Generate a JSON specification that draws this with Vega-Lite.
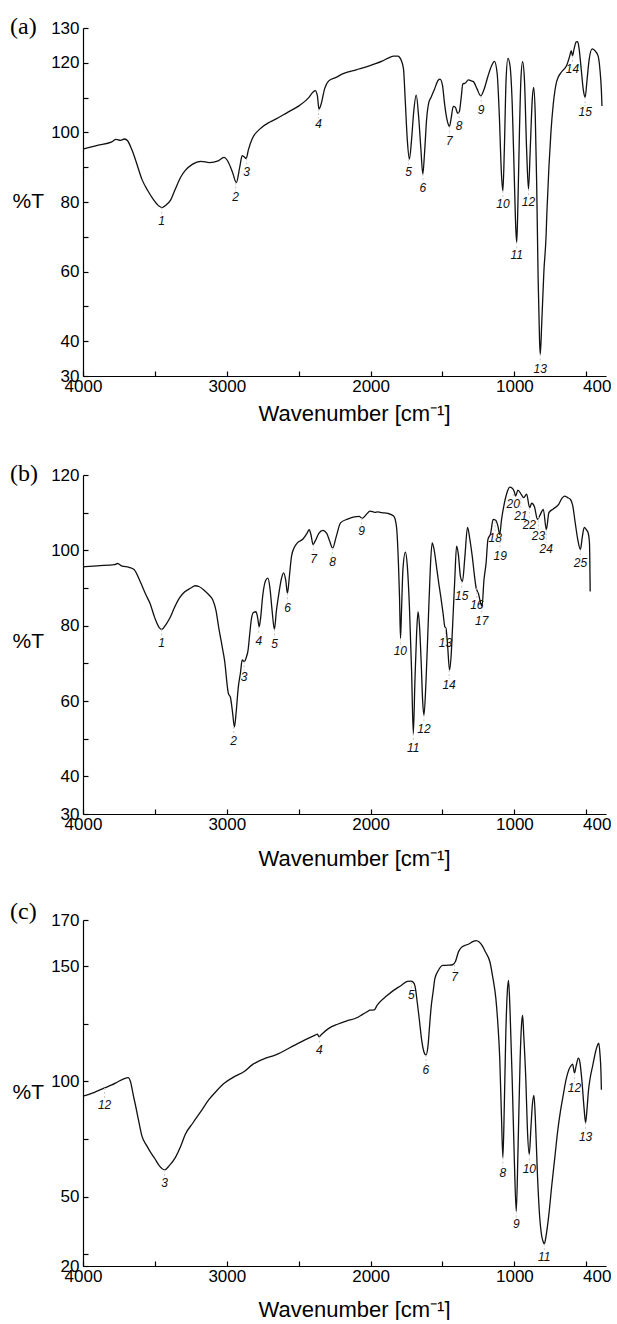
{
  "$schema": "https://vega.github.io/schema/vega-lite/v6.json",
  "background": "white",
  "padding": {"left": 10, "top": 14, "right": 0, "bottom": 0},
  "autosize": {"type": "pad"},
  "config": {
    "view": {"stroke": null},
    "axis": {
      "grid": false,
      "domainColor": "#000",
      "domainWidth": 1.2,
      "tickColor": "#000",
      "tickWidth": 1.2,
      "tickSize": -5,
      "labelColor": "#000",
      "titleColor": "#000",
      "labelFont": "Liberation Sans",
      "titleFont": "Liberation Sans",
      "labelFontSize": 17,
      "titleFontSize": 22,
      "titleFontWeight": "normal",
      "labelFlush": false
    },
    "title": {"font": "Liberation Serif", "fontSize": 24, "fontWeight": "normal", "color": "#000", "anchor": "start", "frame": "group", "baseline": "middle", "offset": 0, "dx": -73}
  },
  "datasets": {
    "a": [
      {"w":4000,"t":95.2},{"w":3900,"t":96.3},{"w":3800,"t":97.3},{"w":3770,"t":98.0},{"w":3740,"t":97.7},{"w":3710,"t":98.1},{"w":3690,"t":97.6},{"w":3660,"t":95},{"w":3630,"t":91.5},{"w":3590,"t":86.5},{"w":3550,"t":83.3},{"w":3510,"t":80.7},{"w":3470,"t":78.8},{"w":3450,"t":78.4},{"w":3420,"t":79.2},{"w":3390,"t":80.6},{"w":3360,"t":83.5},{"w":3320,"t":87.2},{"w":3290,"t":89.0},{"w":3240,"t":90.8},{"w":3180,"t":91.7},{"w":3120,"t":91.3},{"w":3060,"t":91.8},{"w":3020,"t":92.8},{"w":2990,"t":91.5},{"w":2960,"t":88.5},{"w":2934,"t":85.6},{"w":2910,"t":90},{"w":2893,"t":93.3},{"w":2880,"t":93.0},{"w":2865,"t":92.5},{"w":2850,"t":95},{"w":2824,"t":98.1},{"w":2769,"t":101},{"w":2700,"t":103},{"w":2660,"t":103.8},{"w":2580,"t":105.7},{"w":2496,"t":107.7},{"w":2430,"t":110},{"w":2400,"t":111.6},{"w":2385,"t":112.0},{"w":2370,"t":110.5},{"w":2359,"t":106.7},{"w":2345,"t":108},{"w":2320,"t":112.5},{"w":2291,"t":114.8},{"w":2240,"t":115.8},{"w":2195,"t":116.8},{"w":2100,"t":118},{"w":2030,"t":118.8},{"w":1976,"t":119.6},{"w":1920,"t":120.5},{"w":1870,"t":121.5},{"w":1840,"t":121.9},{"w":1810,"t":121.9},{"w":1799,"t":121.6},{"w":1785,"t":120.5},{"w":1771,"t":118.2},{"w":1760,"t":110},{"w":1745,"t":98},{"w":1730,"t":92.3},{"w":1715,"t":98},{"w":1700,"t":106},{"w":1683,"t":110.7},{"w":1665,"t":104},{"w":1650,"t":95},{"w":1637,"t":88},{"w":1625,"t":94},{"w":1610,"t":104},{"w":1595,"t":108.6},{"w":1580,"t":110},{"w":1555,"t":112.5},{"w":1530,"t":115},{"w":1517,"t":115.3},{"w":1500,"t":113.5},{"w":1485,"t":108},{"w":1465,"t":103},{"w":1452,"t":101.7},{"w":1440,"t":104},{"w":1425,"t":107.5},{"w":1410,"t":107.2},{"w":1395,"t":105.5},{"w":1384,"t":105.8},{"w":1370,"t":110},{"w":1359,"t":113.9},{"w":1340,"t":114.2},{"w":1320,"t":115.1},{"w":1300,"t":114.8},{"w":1285,"t":114.6},{"w":1260,"t":112.5},{"w":1234,"t":110.5},{"w":1210,"t":112.5},{"w":1185,"t":116},{"w":1160,"t":119},{"w":1139,"t":120.4},{"w":1120,"t":117},{"w":1105,"t":105},{"w":1090,"t":88},{"w":1080,"t":83.2},{"w":1070,"t":95},{"w":1058,"t":115},{"w":1045,"t":121.3},{"w":1030,"t":119},{"w":1015,"t":108},{"w":1000,"t":86},{"w":990,"t":72},{"w":984,"t":68.4},{"w":978,"t":75},{"w":965,"t":100},{"w":955,"t":115},{"w":943,"t":120.3},{"w":930,"t":115},{"w":915,"t":95},{"w":902,"t":83.7},{"w":890,"t":95},{"w":875,"t":110},{"w":866,"t":112.9},{"w":855,"t":105},{"w":845,"t":85},{"w":835,"t":58},{"w":825,"t":40},{"w":820,"t":36.2},{"w":810,"t":45},{"w":795,"t":60},{"w":780,"t":70},{"w":774,"t":77},{"w":760,"t":90},{"w":746,"t":100},{"w":730,"t":108},{"w":705,"t":114.8},{"w":670,"t":117.5},{"w":637,"t":119.2},{"w":615,"t":122},{"w":605,"t":123.5},{"w":596,"t":122},{"w":585,"t":124},{"w":570,"t":126},{"w":560,"t":126.1},{"w":550,"t":124},{"w":535,"t":118},{"w":520,"t":112},{"w":508,"t":110.1},{"w":495,"t":115},{"w":480,"t":121},{"w":459,"t":124},{"w":440,"t":123.5},{"w":418,"t":122},{"w":405,"t":118},{"w":395,"t":112},{"w":391,"t":107.6}
    ],
    "la": [
      {"n":"1","w":3453,"p":78.4,"l":74.6,"e":76.3},{"n":"2","w":2939,"p":85.6,"l":81.3,"e":83.0},{"n":"3","w":2862,"p":92.5,"l":88.5,"e":90.2},{"n":"4","w":2362,"p":106.7,"l":102.4,"e":104.1},{"n":"5","w":1735,"p":92.3,"l":88.5,"e":90.2},{"n":"6","w":1636,"p":88,"l":83.9,"e":85.6},{"n":"7","w":1452,"p":101.7,"l":97.6,"e":99.3},{"n":"8","w":1384,"p":105.8,"l":101.7,"e":103.4},{"n":"9","w":1231,"p":110.5,"l":106.4,"e":108.1},{"n":"10","w":1080,"p":83.2,"l":79.4,"e":81.1},{"n":"11","w":984,"p":68.4,"l":64.7,"e":66.4},{"n":"12","w":902,"p":83.7,"l":79.9,"e":81.6},{"n":"13","w":820,"p":36.2,"l":32.1,"e":33.8},{"n":"14","w":596,"p":122,"l":118.2,"e":119.9},{"n":"15","w":508,"p":110.1,"l":105.8,"e":107.5}
    ],
    "b": [
      {"w":4000,"t":95.6},{"w":3900,"t":95.9},{"w":3781,"t":96.2},{"w":3760,"t":96.5},{"w":3727,"t":95.8},{"w":3680,"t":95.5},{"w":3645,"t":94.9},{"w":3600,"t":91.5},{"w":3560,"t":88},{"w":3535,"t":86},{"w":3500,"t":82},{"w":3470,"t":79.5},{"w":3453,"t":79},{"w":3420,"t":80.5},{"w":3390,"t":82.5},{"w":3371,"t":84.2},{"w":3330,"t":87.3},{"w":3303,"t":88.6},{"w":3250,"t":90},{"w":3220,"t":90.6},{"w":3194,"t":90.4},{"w":3160,"t":89.5},{"w":3120,"t":88},{"w":3098,"t":86.9},{"w":3075,"t":84},{"w":3057,"t":79.7},{"w":3030,"t":74},{"w":3016,"t":70.9},{"w":2989,"t":62},{"w":2975,"t":61},{"w":2960,"t":57},{"w":2947,"t":53.1},{"w":2935,"t":57},{"w":2920,"t":63.7},{"w":2905,"t":67.5},{"w":2893,"t":70.9},{"w":2879,"t":70.5},{"w":2865,"t":71.5},{"w":2852,"t":73.5},{"w":2840,"t":78},{"w":2830,"t":81.5},{"w":2815,"t":83.5},{"w":2797,"t":83.7},{"w":2785,"t":82},{"w":2775,"t":79.7},{"w":2765,"t":82},{"w":2750,"t":88},{"w":2730,"t":92},{"w":2714,"t":92.6},{"w":2700,"t":90},{"w":2685,"t":84},{"w":2669,"t":79},{"w":2655,"t":84},{"w":2640,"t":88},{"w":2620,"t":92.5},{"w":2605,"t":94},{"w":2590,"t":92},{"w":2578,"t":88.6},{"w":2565,"t":93},{"w":2550,"t":98.4},{"w":2530,"t":100.8},{"w":2509,"t":102},{"w":2470,"t":103},{"w":2441,"t":104.6},{"w":2427,"t":105.5},{"w":2415,"t":104.2},{"w":2400,"t":101.5},{"w":2385,"t":102.5},{"w":2360,"t":104.5},{"w":2332,"t":105.3},{"w":2305,"t":104.5},{"w":2285,"t":102.5},{"w":2264,"t":100.6},{"w":2240,"t":103.5},{"w":2209,"t":107.3},{"w":2160,"t":108.3},{"w":2113,"t":108.9},{"w":2080,"t":109},{"w":2058,"t":108.5},{"w":2030,"t":109.5},{"w":2004,"t":110.4},{"w":1970,"t":110.1},{"w":1950,"t":110.2},{"w":1922,"t":110},{"w":1880,"t":109.8},{"w":1840,"t":109.1},{"w":1825,"t":107.5},{"w":1818,"t":105.5},{"w":1805,"t":95},{"w":1799,"t":87.7},{"w":1792,"t":76.6},{"w":1785,"t":84},{"w":1775,"t":95},{"w":1758,"t":99.5},{"w":1745,"t":96},{"w":1730,"t":85},{"w":1715,"t":68},{"w":1703,"t":51.3},{"w":1692,"t":65},{"w":1680,"t":78},{"w":1670,"t":83.7},{"w":1660,"t":80},{"w":1648,"t":70},{"w":1638,"t":60},{"w":1629,"t":56.2},{"w":1615,"t":65},{"w":1600,"t":80},{"w":1585,"t":95},{"w":1572,"t":102},{"w":1560,"t":100.5},{"w":1539,"t":94.9},{"w":1525,"t":91},{"w":1512,"t":87.7},{"w":1495,"t":83},{"w":1484,"t":79.7},{"w":1476,"t":79.3},{"w":1465,"t":75},{"w":1451,"t":68.2},{"w":1440,"t":72},{"w":1430,"t":79.7},{"w":1415,"t":92},{"w":1402,"t":101.1},{"w":1390,"t":99},{"w":1375,"t":93},{"w":1361,"t":91.7},{"w":1345,"t":98},{"w":1326,"t":106.1},{"w":1310,"t":103},{"w":1293,"t":98.4},{"w":1280,"t":94},{"w":1266,"t":90},{"w":1250,"t":88.5},{"w":1235,"t":86},{"w":1225,"t":85.1},{"w":1212,"t":92},{"w":1197,"t":96.6},{"w":1184,"t":102.9},{"w":1165,"t":104.5},{"w":1148,"t":108.2},{"w":1130,"t":108},{"w":1115,"t":106.5},{"w":1102,"t":104.2},{"w":1090,"t":108},{"w":1074,"t":111.7},{"w":1050,"t":115.5},{"w":1033,"t":116.8},{"w":1015,"t":116.5},{"w":1000,"t":115.5},{"w":992,"t":114.4},{"w":975,"t":116},{"w":955,"t":115},{"w":935,"t":114},{"w":915,"t":114.9},{"w":894,"t":111.3},{"w":880,"t":112.5},{"w":860,"t":111.5},{"w":840,"t":108.2},{"w":820,"t":109.5},{"w":799,"t":110.9},{"w":778,"t":105.5},{"w":760,"t":110},{"w":730,"t":111},{"w":692,"t":112.2},{"w":670,"t":113.8},{"w":651,"t":114.4},{"w":630,"t":114},{"w":610,"t":113.5},{"w":595,"t":112},{"w":577,"t":107.3},{"w":560,"t":103},{"w":541,"t":100.2},{"w":528,"t":103.5},{"w":514,"t":106.1},{"w":500,"t":105.5},{"w":487,"t":104.6},{"w":478,"t":102},{"w":473,"t":89.1}
    ],
    "lb": [
      {"n":"1","w":3453,"p":79,"l":75.3,"e":76.9},{"n":"2","w":2952,"p":53.1,"l":49.5,"e":51.1},{"n":"3","w":2879,"p":70.5,"l":66.4,"e":68.0},{"n":"4","w":2778,"p":79.7,"l":76,"e":77.6},{"n":"5","w":2668,"p":79,"l":75.1,"e":76.7},{"n":"6","w":2578,"p":88.6,"l":84.6,"e":86.2},{"n":"7","w":2397,"p":101.5,"l":97.7,"e":99.3},{"n":"8","w":2264,"p":100.6,"l":96.9,"e":98.5},{"n":"9","w":2062,"p":108.5,"l":105.1,"e":106.7},{"n":"10","w":1793,"p":76.6,"l":73.3,"e":74.9},{"n":"11","w":1703,"p":51.3,"l":47.6,"e":49.2},{"n":"12","w":1629,"p":56.2,"l":52.6,"e":54.2},{"n":"13","w":1480,"p":79.3,"l":75.3,"e":76.9},{"n":"14","w":1454,"p":68.2,"l":64.2,"e":65.8},{"n":"15","w":1366,"p":91.7,"l":87.9,"e":89.5},{"n":"16","w":1261,"p":90,"l":85.5,"e":87.1},{"n":"17","w":1227,"p":85.1,"l":81.3,"e":82.9},{"n":"18","w":1134,"p":107.7,"l":103.3,"e":104.9},{"n":"19","w":1099,"p":102.4,"l":98.6,"e":100.2},{"n":"20","w":1008,"p":115,"l":112.4,"e":114.0},{"n":"21","w":955,"p":114,"l":109.1,"e":110.7},{"n":"22","w":896,"p":111.3,"l":106.7,"e":108.3},{"n":"23","w":833,"p":109,"l":103.9,"e":105.5},{"n":"24","w":779,"p":105.5,"l":100.4,"e":102.0},{"n":"25","w":541,"p":100.2,"l":96.6,"e":98.2}
    ],
    "c": [
      {"w":4000,"t":93.6},{"w":3920,"t":95.3},{"w":3850,"t":97.2},{"w":3800,"t":98.5},{"w":3754,"t":100},{"w":3720,"t":101},{"w":3686,"t":101.7},{"w":3670,"t":100},{"w":3650,"t":94},{"w":3631,"t":88.5},{"w":3610,"t":82},{"w":3590,"t":76.3},{"w":3560,"t":72.5},{"w":3535,"t":69.8},{"w":3500,"t":66.5},{"w":3470,"t":63.5},{"w":3432,"t":61.7},{"w":3400,"t":63.5},{"w":3358,"t":67},{"w":3320,"t":72},{"w":3289,"t":77},{"w":3235,"t":82.1},{"w":3180,"t":87},{"w":3125,"t":92.1},{"w":3070,"t":96},{"w":3016,"t":99.3},{"w":2950,"t":102},{"w":2879,"t":104.3},{"w":2824,"t":107.2},{"w":2750,"t":109.6},{"w":2660,"t":111.5},{"w":2520,"t":116},{"w":2386,"t":120.1},{"w":2370,"t":120.5},{"w":2359,"t":119.4},{"w":2340,"t":120.5},{"w":2291,"t":123},{"w":2230,"t":124.8},{"w":2168,"t":126.2},{"w":2100,"t":127.5},{"w":2058,"t":129},{"w":2025,"t":130.2},{"w":2004,"t":130.9},{"w":1975,"t":131},{"w":1955,"t":133},{"w":1935,"t":134.5},{"w":1890,"t":137},{"w":1840,"t":139.5},{"w":1790,"t":141.5},{"w":1744,"t":143.4},{"w":1720,"t":143.5},{"w":1703,"t":143},{"w":1690,"t":141},{"w":1675,"t":134},{"w":1662,"t":127.3},{"w":1645,"t":118},{"w":1630,"t":113},{"w":1615,"t":111.5},{"w":1600,"t":116},{"w":1590,"t":124},{"w":1580,"t":131.6},{"w":1565,"t":139},{"w":1553,"t":144.6},{"w":1530,"t":148},{"w":1498,"t":150.3},{"w":1460,"t":150.4},{"w":1430,"t":150.6},{"w":1410,"t":152},{"w":1390,"t":156},{"w":1370,"t":158},{"w":1348,"t":158.9},{"w":1320,"t":159.5},{"w":1290,"t":160.6},{"w":1266,"t":161.1},{"w":1245,"t":160.5},{"w":1225,"t":159},{"w":1200,"t":156},{"w":1170,"t":151.8},{"w":1150,"t":145},{"w":1129,"t":136},{"w":1115,"t":125},{"w":1102,"t":110.1},{"w":1090,"t":85},{"w":1080,"t":67},{"w":1070,"t":90},{"w":1060,"t":120},{"w":1050,"t":138},{"w":1041,"t":143.8},{"w":1030,"t":130},{"w":1015,"t":100},{"w":1000,"t":65},{"w":987,"t":43.7},{"w":975,"t":70},{"w":960,"t":110},{"w":950,"t":125},{"w":943,"t":128.8},{"w":935,"t":120},{"w":920,"t":100},{"w":910,"t":80},{"w":897,"t":68.4},{"w":885,"t":80},{"w":875,"t":90},{"w":864,"t":94},{"w":855,"t":85},{"w":840,"t":60},{"w":825,"t":42},{"w":810,"t":33},{"w":800,"t":30.5},{"w":792,"t":29.6},{"w":780,"t":33},{"w":760,"t":42.5},{"w":740,"t":55},{"w":719,"t":67},{"w":700,"t":78},{"w":680,"t":87},{"w":664,"t":92.8},{"w":640,"t":101},{"w":620,"t":105.3},{"w":610,"t":106.5},{"w":595,"t":107.5},{"w":582,"t":103.6},{"w":570,"t":107},{"w":555,"t":110.1},{"w":545,"t":108.5},{"w":530,"t":100},{"w":515,"t":88},{"w":505,"t":82.1},{"w":495,"t":88},{"w":485,"t":96},{"w":473,"t":101.5},{"w":455,"t":107},{"w":435,"t":113},{"w":420,"t":116},{"w":413,"t":116.6},{"w":405,"t":112},{"w":398,"t":104},{"w":395,"t":96.4}
    ],
    "lc": [
      {"n":"12","w":3850,"p":97.2,"l":90,"e":92.6},{"n":"3","w":3432,"p":61.7,"l":55.8,"e":58.4},{"n":"4","w":2356,"p":119.4,"l":113.7,"e":116.3},{"n":"5","w":1717,"p":143,"l":137.4,"e":140.0},{"n":"6","w":1615,"p":111.5,"l":105,"e":107.6},{"n":"7","w":1416,"p":150.6,"l":145.3,"e":147.9},{"n":"8","w":1080,"p":67,"l":60.5,"e":63.1},{"n":"9","w":987,"p":43.7,"l":38,"e":40.6},{"n":"10","w":896,"p":68.4,"l":62,"e":64.6},{"n":"11","w":792,"p":29.6,"l":23.9,"e":26.5},{"n":"12","w":582,"p":103.6,"l":97.2,"e":99.8},{"n":"13","w":505,"p":82.1,"l":75.9,"e":78.5}
    ]
  },
  "bounds": "flush",
  "spacing": 99,
  "vconcat": [
    {
      "width": 523,
      "height": 348,
      "title": {"text": "(a)", "dy": 23.5},
      "layer": [
        {
          "data": {"name": "a"},
          "mark": {"type": "line", "color": "#111", "strokeWidth": 1.3, "interpolate": "monotone"},
          "encoding": {
            "x": {"field": "w", "type": "quantitative", "scale": {"domain": [363, 4000], "reverse": true, "nice": false, "zero": false},
              "axis": {"values": [4000, 3500, 3000, 2500, 2000, 1500, 1000, 500, 400], "tickCount": 40, "format": "d", "labelOverlap": false,
                "labelExpr": "datum.value == 400 || datum.value == 1000 || datum.value == 2000 || datum.value == 3000 || datum.value == 4000 ? datum.label : ''",
                "tickOpacity": {"condition": {"test": "datum.value == 400", "value": 0}, "value": 1},
                "labelOffset": {"condition": {"test": "datum.value == 400", "value": -4}, "value": 0},
                "labelPadding": 7, "title": "Wavenumber [cm⁻¹]", "titlePadding": 9, "titleX": 271, "titleAnchor": "start", "titleAlign": "center"}},
            "y": {"field": "t", "type": "quantitative", "scale": {"domain": [30, 130], "nice": false, "zero": false},
              "axis": {"values": [30, 40, 50, 60, 70, 80, 90, 100, 110, 120, 130], "tickCount": 40, "labelOverlap": false, "format": "d",
                "labelExpr": "(datum.value - 30) % 20 == 0 && datum.value != 30 && datum.value != 130 ? '' : datum.label",
                "labelPadding": 9, "title": "%T", "titleAngle": 0, "titleAlign": "left", "titleBaseline": "middle",
                "titleX": -71, "titleY": 173, "titleFontSize": 21}}
          }
        },
        {
          "data": {"name": "la"},
          "mark": {"type": "rule", "color": "#c8c8c8", "strokeWidth": 1, "strokeDash": [2, 2]},
          "encoding": {
            "x": {"field": "w", "type": "quantitative"},
            "y": {"field": "p", "type": "quantitative"},
            "y2": {"field": "e"}
          }
        },
        {
          "data": {"name": "la"},
          "mark": {"type": "text", "font": "Liberation Sans", "fontStyle": "italic", "fontSize": 12, "color": "#111", "baseline": "middle", "align": "center"},
          "encoding": {
            "x": {"field": "w", "type": "quantitative"},
            "y": {"field": "l", "type": "quantitative"},
            "text": {"field": "n"}
          }
        }
      ]
    },
    {
      "bounds": "flush",
      "spacing": 106,
      "vconcat": [
        {
          "width": 523,
          "height": 339,
          "title": {"text": "(b)", "dy": 23.8},
          "layer": [
            {
              "data": {"name": "b"},
              "mark": {"type": "line", "color": "#111", "strokeWidth": 1.3, "interpolate": "monotone"},
              "encoding": {
                "x": {"field": "w", "type": "quantitative", "scale": {"domain": [363, 4000], "reverse": true, "nice": false, "zero": false},
                  "axis": {"values": [4000, 3500, 3000, 2500, 2000, 1500, 1000, 500, 400], "tickCount": 40, "format": "d", "labelOverlap": false,
                    "labelExpr": "datum.value == 400 || datum.value == 1000 || datum.value == 2000 || datum.value == 3000 || datum.value == 4000 ? datum.label : ''",
                    "tickOpacity": {"condition": {"test": "datum.value == 400", "value": 0}, "value": 1},
                    "labelOffset": {"condition": {"test": "datum.value == 400", "value": -4}, "value": 0},
                    "labelPadding": 7, "title": "Wavenumber [cm⁻¹]", "titlePadding": 16, "titleX": 271, "titleAnchor": "start", "titleAlign": "center"}},
                "y": {"field": "t", "type": "quantitative", "scale": {"domain": [30, 120], "nice": false, "zero": false},
                  "axis": {"values": [30, 40, 50, 60, 70, 80, 90, 100, 110, 120], "tickCount": 40, "labelOverlap": false, "format": "d",
                    "labelExpr": "(datum.value - 30) % 20 == 0 && datum.value != 30 ? '' : datum.label",
                    "labelPadding": 9, "title": "%T", "titleAngle": 0, "titleAlign": "left", "titleBaseline": "middle",
                    "titleX": -71, "titleY": 166, "titleFontSize": 21}}
              }
            },
            {
              "data": {"name": "lb"},
              "mark": {"type": "rule", "color": "#c8c8c8", "strokeWidth": 1, "strokeDash": [2, 2]},
              "encoding": {
                "x": {"field": "w", "type": "quantitative"},
                "y": {"field": "p", "type": "quantitative"},
                "y2": {"field": "e"}
              }
            },
            {
              "data": {"name": "lb"},
              "mark": {"type": "text", "font": "Liberation Sans", "fontStyle": "italic", "fontSize": 12, "color": "#111", "baseline": "middle", "align": "center"},
              "encoding": {
                "x": {"field": "w", "type": "quantitative"},
                "y": {"field": "l", "type": "quantitative"},
                "text": {"field": "n"}
              }
            }
          ]
        },
        {
          "width": 523,
          "height": 346,
          "title": {"text": "(c)", "dy": 16.5},
          "layer": [
            {
              "data": {"name": "c"},
              "mark": {"type": "line", "color": "#111", "strokeWidth": 1.3, "interpolate": "monotone"},
              "encoding": {
                "x": {"field": "w", "type": "quantitative", "scale": {"domain": [363, 4000], "reverse": true, "nice": false, "zero": false},
                  "axis": {"values": [4000, 3500, 3000, 2500, 2000, 1500, 1000, 500, 400], "tickCount": 40, "format": "d", "labelOverlap": false,
                    "labelExpr": "datum.value == 400 || datum.value == 1000 || datum.value == 2000 || datum.value == 3000 || datum.value == 4000 ? datum.label : ''",
                    "tickOpacity": {"condition": {"test": "datum.value == 400", "value": 0}, "value": 1},
                    "labelOffset": {"condition": {"test": "datum.value == 400", "value": -4}, "value": 0},
                    "labelPadding": 7, "title": "Wavenumber [cm⁻¹]", "titlePadding": 15, "titleX": 271, "titleAnchor": "start", "titleAlign": "center"}},
                "y": {"field": "t", "type": "quantitative", "scale": {"domain": [20, 170], "nice": false, "zero": false},
                  "axis": {"values": [20, 25, 50, 75, 100, 125, 150, 170], "tickCount": 40, "labelOverlap": false, "format": "d",
                    "labelExpr": "datum.value == 25 || datum.value == 75 || datum.value == 125 ? '' : datum.label",
                    "labelPadding": 9, "title": "%T", "titleAngle": 0, "titleAlign": "left", "titleBaseline": "middle",
                    "titleX": -71, "titleY": 172, "titleFontSize": 21}}
              }
            },
            {
              "data": {"name": "lc"},
              "mark": {"type": "rule", "color": "#c8c8c8", "strokeWidth": 1, "strokeDash": [2, 2]},
              "encoding": {
                "x": {"field": "w", "type": "quantitative"},
                "y": {"field": "p", "type": "quantitative"},
                "y2": {"field": "e"}
              }
            },
            {
              "data": {"name": "lc"},
              "mark": {"type": "text", "font": "Liberation Sans", "fontStyle": "italic", "fontSize": 12, "color": "#111", "baseline": "middle", "align": "center"},
              "encoding": {
                "x": {"field": "w", "type": "quantitative"},
                "y": {"field": "l", "type": "quantitative"},
                "text": {"field": "n"}
              }
            }
          ]
        }
      ]
    }
  ]
}
